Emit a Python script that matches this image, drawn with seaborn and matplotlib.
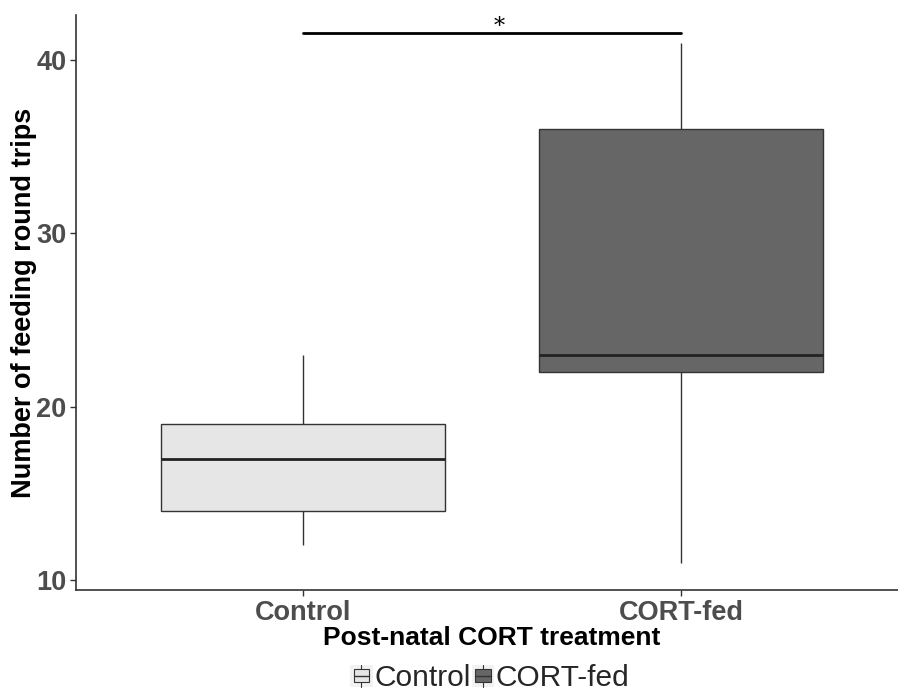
import matplotlib
matplotlib.use("Agg")
import matplotlib.pyplot as plt
import seaborn as sns
import pandas as pd
from matplotlib.legend_handler import HandlerBase
from matplotlib.patches import Rectangle
from matplotlib.lines import Line2D

groups = ["Control", "CORT-fed"]
control_vals = [12, 14, 17, 19, 23]
cort_vals = [11, 22, 23, 36, 41]
fill_colors = ["#E6E6E6", "#666666"]
yticks = [10, 20, 30, 40]

df = pd.DataFrame({
    "group": ["Control"] * len(control_vals) + ["CORT-fed"] * len(cort_vals),
    "value": control_vals + cort_vals,
})

sns.set_style("white")
plt.rcParams["font.family"] = ["Liberation Sans", "DejaVu Sans"]

fig = plt.figure(figsize=(8.98, 6.91), dpi=100)
ax = fig.add_axes([76 / 898, 1 - 590 / 691, (908 - 76) / 898, (590 - 15) / 691])

sns.boxplot(data=df, x="group", y="value", hue="group", order=groups,
            hue_order=groups, palette=fill_colors, width=0.75, legend=False,
            linecolor="#333333", linewidth=1.0, showcaps=False,
            medianprops=dict(color="#222222", linewidth=2.0),
            whiskerprops=dict(color="#333333", linewidth=1.0),
            boxprops=dict(edgecolor="#333333", linewidth=1.0),
            ax=ax)

ax.set_xlim(-0.6, 1.6)
ax.set_ylim(9.42, 42.6)
ax.set_yticks(yticks)
ax.set_yticklabels([str(t) for t in yticks])

for s in ["top", "right"]:
    ax.spines[s].set_visible(False)
for s in ["left", "bottom"]:
    ax.spines[s].set_color("#333333")
    ax.spines[s].set_linewidth(1.2)

ax.tick_params(axis="both", which="both", length=4, width=1, color="#333333",
               labelcolor="#4D4D4D", labelsize=19.5, left=True, bottom=True, pad=3)
for lab in ax.get_xticklabels() + ax.get_yticklabels():
    lab.set_fontweight("bold")

ax.set_xlabel("Post-natal CORT treatment", fontsize=19, fontweight="bold",
              color="black", labelpad=0)
ax.set_ylabel("Number of feeding round trips", fontsize=19.5, fontweight="bold",
              color="black", labelpad=-1)

# significance bar
ax.plot([0, 1], [41.56, 41.56], color="black", linewidth=2, clip_on=False)
ax.text(0.52, 41.27, "*", ha="center", va="bottom", fontsize=16,
        family="DejaVu Serif", color="black")


class BoxHandler(HandlerBase):
    def __init__(self, color):
        super().__init__()
        self.color = color

    def create_artists(self, legend, orig_handle, xdescent, ydescent, width,
                       height, fontsize, trans):
        w, h = width, height
        x0, y0 = -xdescent, -ydescent
        bg = Rectangle((x0, y0), w, h, facecolor="#F2F2F2",
                       edgecolor="none", transform=trans)
        wh = Line2D([x0 + w * 0.5] * 2, [y0, y0 + h],
                    color="#333333", lw=0.8, transform=trans)
        rect = Rectangle((x0 + w * 0.15, y0 + h * 0.2), w * 0.7, h * 0.6,
                         facecolor=self.color, edgecolor="#333333",
                         linewidth=0.8, transform=trans)
        med = Line2D([x0 + w * 0.15, x0 + w * 0.85], [y0 + h * 0.5] * 2,
                     color="#333333", lw=1, transform=trans)
        return [bg, wh, rect, med]


h1 = Rectangle((0, 0), 1, 1)
h2 = Rectangle((0, 0), 1, 1)
leg = fig.legend([h1, h2], groups, loc="center",
                 bbox_to_anchor=(490 / 898, 1 - 678 / 691),
                 ncol=2, frameon=False, fontsize=21.5, handlelength=0.75,
                 handleheight=0.75, handletextpad=0.05, columnspacing=0.05,
                 handler_map={h1: BoxHandler(fill_colors[0]),
                              h2: BoxHandler(fill_colors[1])})

fig.savefig("out.png", dpi=100)
